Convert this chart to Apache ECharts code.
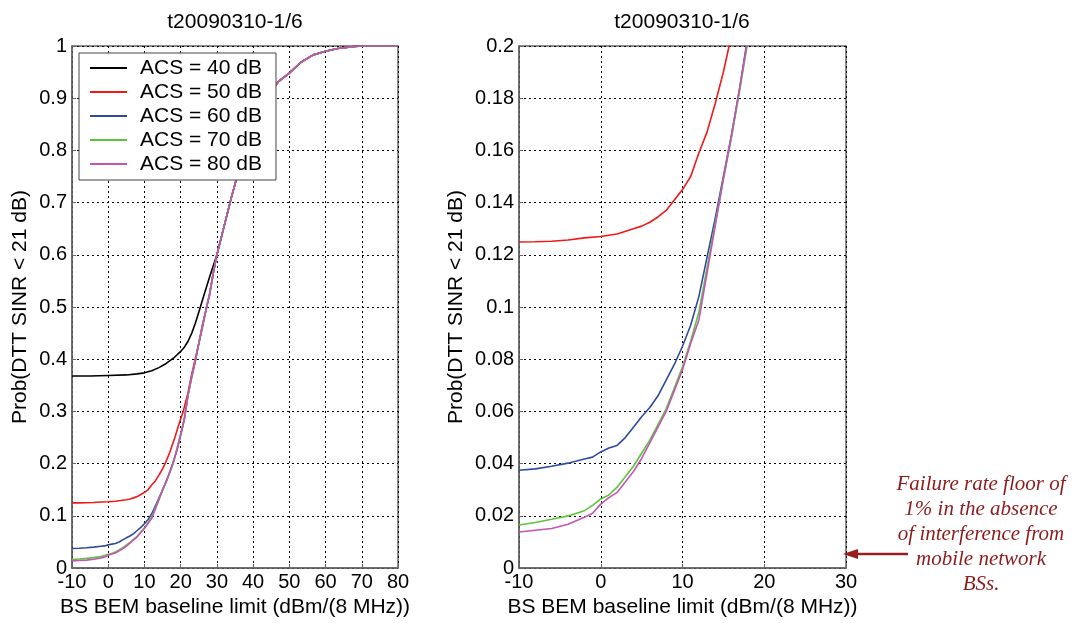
<!DOCTYPE html>
<html>
<head>
<meta charset="utf-8">
<script src="https://cdn.jsdelivr.net/npm/echarts@6/dist/echarts.min.js"></script>
<style>
  body{margin:0;background:#fff;}
  #chart{width:1074px;height:623px;}
</style>
</head>
<body>
<div id="chart"></div>
<script>
// x = BS BEM baseline limit (dBm/(8 MHz)), y = Prob(DTT SINR < 21 dB)
var names = ['ACS = 40 dB','ACS = 50 dB','ACS = 60 dB','ACS = 70 dB','ACS = 80 dB']
var colors = ['#000000','#f01818','#2f4aa0','#5cc43c','#c455b5']

// shared upper part where all curves meet
var tail_x = [30,32,34,35.5,37.5,40,43,47,50,53,56.6,60,64,68,70,80]
var tail_y = [0.60,0.655,0.71,0.748,0.80,0.85,0.895,0.932,0.948,0.968,0.983,0.99,0.996,0.999,1.0,1.0]

var acs40_x = [-10,-5,0,5,8,10,12,14,16,18,20,21,22,23,24,25,26,28]
var acs40_y = [0.368,0.368,0.369,0.370,0.372,0.374,0.378,0.384,0.392,0.402,0.415,0.423,0.434,0.449,0.468,0.49,0.513,0.558]

var acs50_x = [-10,-8,-6,-4,-2,0,2,4,5,6,7,8,9,10,11,12,13,14,15,15.7,17,18.4,19.5,20.7,22,23,24,25,26,27,28,29]
var acs50_y = [0.1249,0.125,0.1252,0.1257,0.1265,0.127,0.128,0.130,0.131,0.1325,0.1345,0.137,0.141,0.145,0.150,0.159,0.167,0.178,0.19,0.2,0.222,0.25,0.275,0.30,0.335,0.37,0.40,0.43,0.46,0.495,0.525,0.565]

var acs60_x = [-10,-8,-6,-4,-2,-1,0,1,2,3,4,5,6,7,8,9,10,11,12,13,14,15,16,17,17.8,19,20]
var acs60_y = [0.0375,0.038,0.039,0.0402,0.0418,0.0425,0.0445,0.046,0.047,0.050,0.054,0.058,0.0615,0.066,0.072,0.078,0.085,0.093,0.104,0.119,0.134,0.150,0.166,0.184,0.2,0.226,0.255]

var acs70_x = [-10,-8,-6,-4,-2,-1,0,1,2,3,4,5,6,7,8,9,10,11,12,13,14,15,16,17,18]
var acs70_y = [0.0165,0.0175,0.0187,0.020,0.022,0.024,0.0265,0.028,0.031,0.035,0.039,0.044,0.049,0.055,0.061,0.069,0.077,0.087,0.098,0.115,0.132,0.149,0.165,0.183,0.202]

var acs80_x = [-10,-8,-6,-4,-2,-1,0,1,2,3,4,5,6,7,8,9,10,11,12,13,14,15,16,17,18,19,20,21,22,23,24,25,26,27,28,29]
var acs80_y = [0.0138,0.0145,0.0152,0.0168,0.0195,0.021,0.0245,0.027,0.029,0.033,0.037,0.042,0.048,0.054,0.060,0.068,0.076,0.086,0.095,0.113,0.131,0.149,0.166,0.184,0.203,0.228,0.255,0.285,0.33,0.365,0.395,0.43,0.465,0.495,0.525,0.565]

// 60/70 dB join the 80 dB curve above 20 dB
var mid_x = [21,22,23,24,25,26,27,28,29]
var mid_y = [0.285,0.33,0.365,0.395,0.43,0.465,0.495,0.525,0.565]

var annot_lines = ['Failure rate floor of','1% in the absence','of interference from','mobile network','BSs.']

function pairs(xs,ys){
  var out = []
  for(var i=0;i<xs.length;i++){
    out.push([xs[i],ys[i]])
  }
  return out
}

function build(xs,ys,withMid){
  var d = pairs(xs,ys)
  if(withMid) d = d.concat(pairs(mid_x,mid_y))
  return d.concat(pairs(tail_x,tail_y))
}

var curves = [
  build(acs40_x,acs40_y,false),
  build(acs50_x,acs50_y,false),
  build(acs60_x,acs60_y,true),
  build(acs70_x,acs70_y,true),
  build(acs80_x,acs80_y,false)
]

var font = 'Liberation Sans'
var axisColor = '#666'

function xaxis(idx,max){
  return {
    type:'value', gridIndex:idx, min:-10, max:max, interval:10,
    name:'BS BEM baseline limit (dBm/(8 MHz))', nameLocation:'middle', nameGap:24,
    nameTextStyle:{fontSize:21,color:'#000',fontFamily:font},
    axisLine:{show:true,onZero:false,lineStyle:{color:axisColor,width:1.5}},
    axisTick:{show:true,inside:true,length:4,lineStyle:{color:axisColor}},
    axisLabel:{fontSize:20,color:'#000',margin:4,fontFamily:font},
    splitLine:{show:true,lineStyle:{color:'#000',type:[2,3],width:1}}
  }
}

function yaxis(idx,max,step,gap){
  return {
    type:'value', gridIndex:idx, min:0, max:max, interval:step,
    name:'Prob(DTT SINR < 21 dB)', nameLocation:'middle', nameGap:gap,
    nameTextStyle:{fontSize:21,color:'#000',fontFamily:font},
    axisLine:{show:true,onZero:false,lineStyle:{color:axisColor,width:1.5}},
    axisTick:{show:true,inside:true,length:4,lineStyle:{color:axisColor}},
    axisLabel:{fontSize:20,color:'#000',margin:5,fontFamily:font},
    splitLine:{show:true,lineStyle:{color:'#000',type:[2,3],width:1}}
  }
}

var series = []
for(var g=0; g<2; g++){
  for(var k=0; k<names.length; k++){
    series.push({
      name:names[k], type:'line', xAxisIndex:g, yAxisIndex:g,
      data:curves[k], symbol:'none', smooth:false, clip:true, animation:false,
      lineStyle:{color:colors[k],width:1.6}, itemStyle:{color:colors[k]}
    })
  }
}

var graphics = []
for(var i=0;i<annot_lines.length;i++){
  graphics.push({
    type:'text', x:981, y:484+i*25,
    style:{text:annot_lines[i], fill:'#8e1b1b', font:'italic 21px "Liberation Serif"',
      textAlign:'center', textVerticalAlign:'middle'}
  })
}
graphics.push({type:'line', shape:{x1:908,y1:554,x2:855,y2:554}, style:{stroke:'#9b1c1c',lineWidth:2.5}})
graphics.push({type:'polygon', shape:{points:[[843,554],[858,549],[858,559]]}, style:{fill:'#9b1c1c'}})

var chart = echarts.init(document.getElementById('chart'))
var option = {
  animation:false,
  backgroundColor:'#fff',
  textStyle:{fontFamily:font},
  title:[
    {text:'t20090310-1/6', left:235, top:12, textAlign:'center', padding:0,
      textStyle:{fontSize:21,fontWeight:'normal',color:'#000',fontFamily:font}},
    {text:'t20090310-1/6', left:682, top:12, textAlign:'center', padding:0,
      textStyle:{fontSize:21,fontWeight:'normal',color:'#000',fontFamily:font}}
  ],
  legend:{
    data:names, orient:'vertical', left:79, top:53,
    icon:'rect', padding:[3,14,4,11], itemGap:0, itemWidth:37, itemHeight:2,
    backgroundColor:'#fff', borderColor:'#444', borderWidth:1, borderRadius:0,
    textStyle:{fontSize:21,color:'#000',lineHeight:24,fontFamily:font,padding:[0,0,0,8]},
    selectedMode:false
  },
  grid:[
    {left:72, top:46, width:326, height:530, show:true, borderColor:axisColor, borderWidth:1.5, backgroundColor:'transparent'},
    {left:519, top:46, width:327, height:530, show:true, borderColor:axisColor, borderWidth:1.5, backgroundColor:'transparent'}
  ],
  xAxis:[xaxis(0,80), xaxis(1,30)],
  yAxis:[yaxis(0,1,0.1,41), yaxis(1,0.2,0.02,52)],
  series:series,
  graphic:graphics
}
chart.setOption(option)
</script>
</body>
</html>
